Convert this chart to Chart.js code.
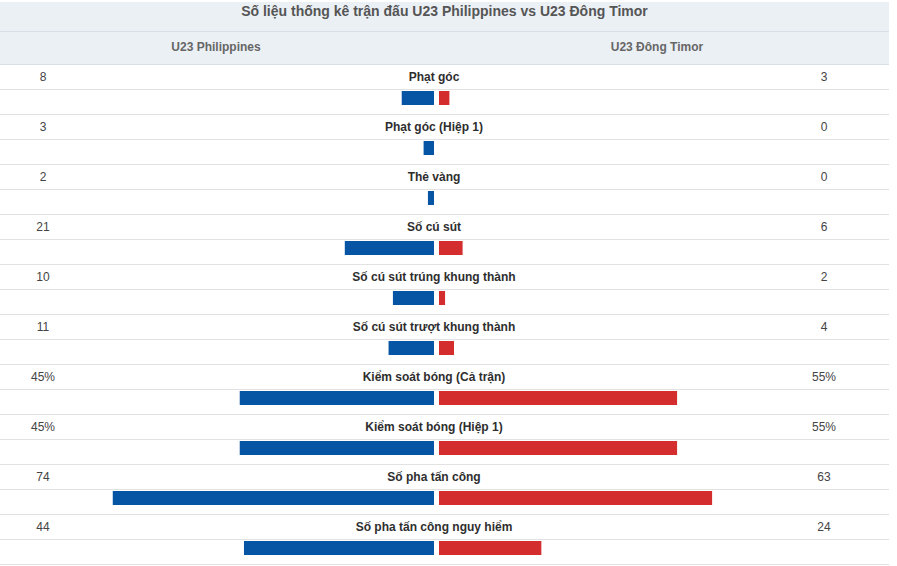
<!DOCTYPE html>
<html>
<head>
<meta charset="utf-8">
<script src="https://cdn.jsdelivr.net/npm/chart.js@4.4.1/dist/chart.umd.min.js"></script>
<style>
  html, body { margin: 0; padding: 0; background: #fff; overflow: hidden; }
  body { width: 897px; height: 566px; position: relative; font-family: Arial, "Liberation Sans", sans-serif; }
  #head { position: absolute; left: 0; top: 2px; width: 889px; height: 62px; background: #ebf0f5; }
  .hline { position: absolute; left: 0; width: 889px; height: 1px; }
  #title { position: absolute; left: 0; top: 2px; width: 889px; text-align: center; font-size: 14px; font-weight: bold; color: #555; line-height: 19px; }
  .team { position: absolute; top: 32px; height: 32px; line-height: 31px; font-size: 12px; font-weight: bold; color: #666; text-align: center; width: 300px; }
  .lbl { position: absolute; left: 234px; width: 400px; text-align: center; font-size: 12px; font-weight: bold; color: #2e2e2e; height: 24px; line-height: 24px; }
  .num { position: absolute; width: 80px; text-align: center; font-size: 12px; color: #444; height: 24px; line-height: 24px; }
  #bars { position: absolute; left: 0; top: 73px; }
</style>
</head>
<body>
<div id="head"></div>
<div id="title"></div>
<div class="team" id="homeTeam" style="left:66px"></div>
<div class="team" id="awayTeam" style="left:507px"></div>
<div id="rows"></div>
<canvas id="bars" width="873" height="500"></canvas>
<script>
const chartTitle = 'Số liệu thống kê trận đấu U23 Philippines vs U23 Đông Timor';
const teams = ['U23 Philippines', 'U23 Đông Timor'];
const categories = [
  'Phạt góc',
  'Phạt góc (Hiệp 1)',
  'Thẻ vàng',
  'Số cú sút',
  'Số cú sút trúng khung thành',
  'Số cú sút trượt khung thành',
  'Kiểm soát bóng (Cả trận)',
  'Kiểm soát bóng (Hiệp 1)',
  'Số pha tấn công',
  'Số pha tấn công nguy hiểm'
];
const homeValues = [8, 3, 2, 21, 10, 11, 45, 45, 74, 44];
const awayValues = [3, 0, 0, 6, 2, 4, 55, 55, 63, 24];
const valueSuffix = ['', '', '', '', '', '', '%', '%', '', ''];

document.getElementById('title').textContent = chartTitle;
document.getElementById('homeTeam').textContent = teams[0];
document.getElementById('awayTeam').textContent = teams[1];

const rows = document.getElementById('rows');
function addLine(y, color) {
  const d = document.createElement('div');
  d.className = 'hline';
  d.style.top = y + 'px';
  d.style.background = color;
  rows.appendChild(d);
}
addLine(31, '#d8dfe6');
for (let k = 0; k <= categories.length * 2; k++) {
  addLine(64 + 25 * k, k === 0 ? '#d8dfe6' : '#e2e2e2');
}
categories.forEach((c, i) => {
  const top = 65 + 50 * i;
  const l = document.createElement('div');
  l.className = 'lbl';
  l.style.top = top + 'px';
  l.textContent = c;
  rows.appendChild(l);
  const h = document.createElement('div');
  h.className = 'num';
  h.style.left = '3px';
  h.style.top = top + 'px';
  h.textContent = homeValues[i] + valueSuffix[i];
  rows.appendChild(h);
  const a = document.createElement('div');
  a.className = 'num';
  a.style.left = '784px';
  a.style.top = top + 'px';
  a.textContent = awayValues[i] + valueSuffix[i];
  rows.appendChild(a);
});

new Chart(document.getElementById('bars'), {
  type: 'bar',
  data: {
    labels: categories,
    datasets: [
      {
        label: teams[0],
        data: homeValues.map(v => -v),
        backgroundColor: '#0555a4',
        borderColor: 'rgba(255,255,255,0)',
        borderWidth: { left: 0, right: 2.5, top: 0, bottom: 0 },
        borderSkipped: false,
        barThickness: 14,
        inflateAmount: 0
      },
      {
        label: teams[1],
        data: awayValues,
        backgroundColor: '#d42d2d',
        borderColor: 'rgba(255,255,255,0)',
        borderWidth: { left: 2.5, right: 0, top: 0, bottom: 0 },
        borderSkipped: false,
        barThickness: 14,
        inflateAmount: 0
      }
    ]
  },
  options: {
    indexAxis: 'y',
    responsive: false,
    animation: false,
    devicePixelRatio: 1,
    layout: { padding: 0 },
    plugins: { legend: { display: false }, tooltip: { enabled: false }, title: { display: false } },
    scales: {
      x: { stacked: true, min: -99.7, max: 99.7, display: false },
      y: { stacked: true, display: false }
    }
  }
});
</script>
</body>
</html>
